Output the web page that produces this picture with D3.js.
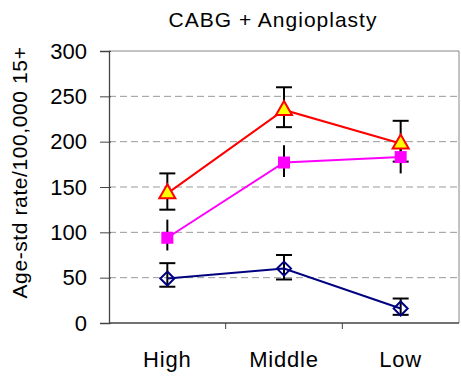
<!DOCTYPE html>
<html>
<head>
<meta charset="utf-8">
<script src="https://cdn.jsdelivr.net/npm/d3@7"></script>
<style>
  body { margin: 0; background: #fff; }
  svg { display: block; font-family: "Liberation Sans", Arial, sans-serif; }
</style>
</head>
<body>
<svg id="chart" width="461" height="376"></svg>
<script>
// Income groups along the x axis
const categories = ["High", "Middle", "Low"];
const yTicks = [0, 50, 100, 150, 200, 250, 300];

// Rates with lower / upper confidence limits
const blueValues = [49, 60, 16];
const blueLow = [40, 48, 9];
const blueHigh = [66, 75, 27];

const magentaValues = [94, 177, 183];
const magentaLow = [80, 161, 165];
const magentaHigh = [114, 196, 201];

const redValues = [143, 235, 198];
const redLow = [125, 216, 178];
const redHigh = [165, 260, 223];

const series = [
  { name: "blue", values: blueValues, lo: blueLow, hi: blueHigh, color: "#000080", shape: "diamond", caps: true },
  { name: "magenta", values: magentaValues, lo: magentaLow, hi: magentaHigh, color: "#FF00FF", shape: "square", caps: false },
  { name: "red", values: redValues, lo: redLow, hi: redHigh, color: "#FF0000", shape: "triangle", caps: true }
];

const svg = d3.select("#chart");
const plotLeft = 109, plotRight = 459, plotTop = 51, plotBottom = 323;

const x = d3.scaleBand().domain(categories).range([plotLeft, plotRight]);
const y = d3.scaleLinear().domain([0, 300]).range([plotBottom, plotTop]);
const cx = c => x(c) + x.bandwidth() / 2;

// Dashed gridlines
svg.append("g").selectAll("line")
  .data(yTicks.filter(t => t > 0 && t < 300))
  .join("line")
  .attr("x1", plotLeft).attr("x2", plotRight)
  .attr("y1", d => y(d)).attr("y2", d => y(d))
  .attr("stroke", "#999").attr("stroke-width", 1)
  .attr("stroke-dasharray", "7,4");

// Plot frame top / right
svg.append("path")
  .attr("d", `M${plotLeft},${plotTop}H${plotRight}V${plotBottom}`)
  .attr("fill", "none").attr("stroke", "#888").attr("stroke-width", 1);

// Y axis
const yAxis = svg.append("g")
  .attr("transform", `translate(${plotLeft},0)`)
  .call(d3.axisLeft(y).tickValues(yTicks).tickSize(9).tickPadding(13));
yAxis.select(".domain").attr("stroke", "#444").attr("stroke-width", 1.3);
yAxis.selectAll(".tick line").attr("stroke", "#444").attr("x2", 2).attr("x1", -9);
yAxis.selectAll("text")
  .attr("font-size", 22).attr("fill", "#000")
  .attr("font-family", "Liberation Sans, Arial, sans-serif");

// X axis: tick marks at band boundaries
const xAxisG = svg.append("g").attr("transform", `translate(0,${plotBottom})`);
xAxisG.append("line").attr("x1", plotLeft).attr("x2", plotRight)
  .attr("stroke", "#444").attr("stroke-width", 1.3);
xAxisG.selectAll(".bt")
  .data(categories.slice(1))
  .join("line")
  .attr("class", "bt")
  .attr("x1", d => x(d)).attr("x2", d => x(d))
  .attr("y1", 0).attr("y2", 6)
  .attr("stroke", "#444");
xAxisG.selectAll("text.lbl")
  .data(categories)
  .join("text")
  .attr("class", "lbl")
  .attr("x", d => cx(d)).attr("y", 44)
  .attr("text-anchor", "middle")
  .attr("font-size", 22).attr("letter-spacing", 0.8).attr("fill", "#000")
  .text(d => d);

// Title
svg.append("text")
  .attr("x", 273).attr("y", 27)
  .attr("text-anchor", "middle")
  .attr("font-size", 21).attr("letter-spacing", 1)
  .text("CABG + Angioplasty");

// Y axis title
svg.append("text")
  .attr("transform", `translate(27,172.5) rotate(-90)`)
  .attr("text-anchor", "middle")
  .attr("font-size", 21).attr("letter-spacing", 0.6)
  .text("Age-std rate/100,000 15+");

// Error bars
const errG = svg.append("g");
series.forEach(s => {
  categories.forEach((c, i) => {
    errG.append("line")
      .attr("x1", cx(c)).attr("x2", cx(c))
      .attr("y1", y(s.lo[i])).attr("y2", y(s.hi[i]))
      .attr("stroke", "#000").attr("stroke-width", 2);
    if (s.caps) {
      [s.lo[i], s.hi[i]].forEach(v => {
        errG.append("line")
          .attr("x1", cx(c) - 8).attr("x2", cx(c) + 8)
          .attr("y1", y(v)).attr("y2", y(v))
          .attr("stroke", "#000").attr("stroke-width", 2);
      });
    }
  });
});

// Lines
const line = d3.line().x((d, i) => cx(categories[i])).y(d => y(d));
series.forEach(s => {
  svg.append("path")
    .datum(s.values)
    .attr("d", line)
    .attr("fill", "none")
    .attr("stroke", s.color)
    .attr("stroke-width", 2);
});

// Markers
series.forEach(s => {
  const g = svg.append("g");
  s.values.forEach((v, i) => {
    const px = cx(categories[i]), py = y(v);
    if (s.shape === "diamond") {
      g.append("path")
        .attr("d", `M${px},${py - 7}L${px + 7},${py}L${px},${py + 7}L${px - 7},${py}Z`)
        .attr("fill", "none").attr("stroke", s.color).attr("stroke-width", 2);
    } else if (s.shape === "square") {
      g.append("rect")
        .attr("x", px - 6).attr("y", py - 6)
        .attr("width", 12).attr("height", 12)
        .attr("fill", s.color);
    } else {
      g.append("path")
        .attr("d", `M${px},${py - 9}L${px + 8},${py + 5}L${px - 8},${py + 5}Z`)
        .attr("fill", "#FFFF00").attr("stroke", s.color).attr("stroke-width", 2)
        .attr("stroke-linejoin", "miter");
    }
  });
});
</script>
</body>
</html>
